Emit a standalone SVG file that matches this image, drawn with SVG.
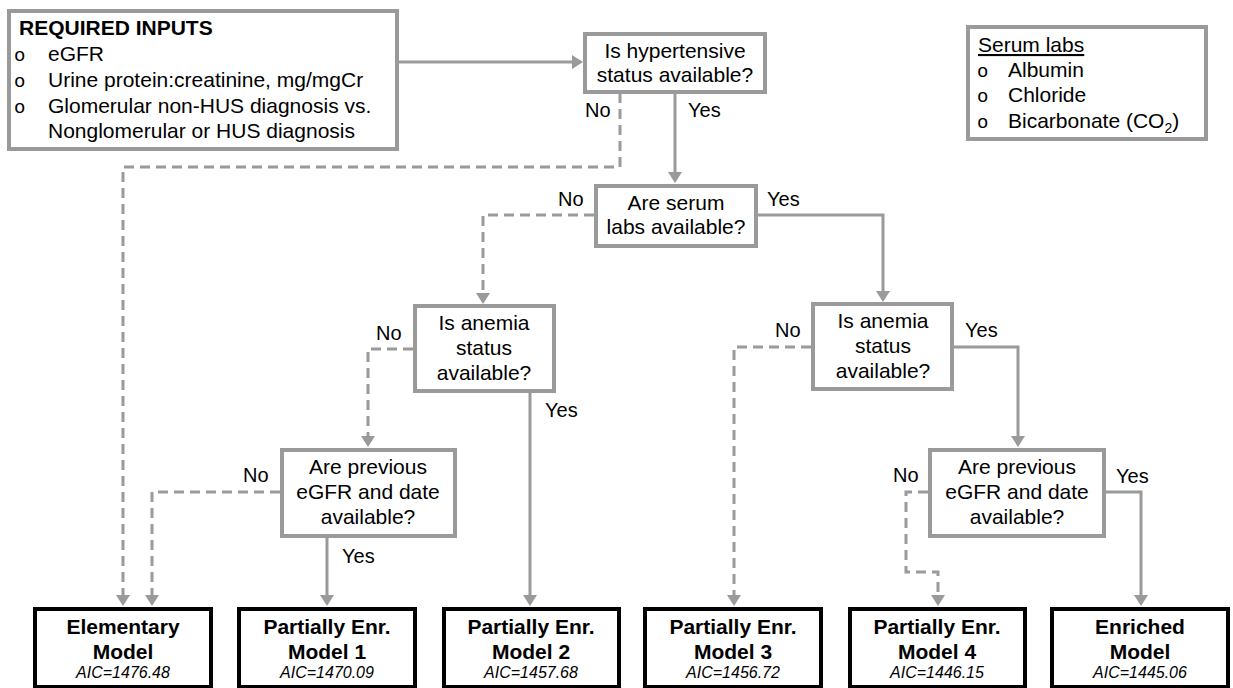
<svg xmlns="http://www.w3.org/2000/svg" width="1233" height="688" viewBox="0 0 1233 688">
<style>
text{font-family:"Liberation Sans",Arial,sans-serif;fill:#000}
.t{font-size:21px}
.c{font-size:21px;text-anchor:middle}
.b{font-size:21px;font-weight:bold;text-anchor:middle}
.aic{font-size:16px;font-style:italic;text-anchor:middle}
.lbl{font-size:20px}
.bul{font-family:"Liberation Mono",monospace;font-size:19px}
.gbox{fill:#fff;stroke:#9a9a9a;stroke-width:4}
.kbox{fill:#fff;stroke:#000;stroke-width:4}
.ln{fill:none;stroke:#9a9a9a;stroke-width:3}
.dash{stroke-dasharray:10,6}
</style>
<defs>
<marker id="ah" viewBox="0 0 11 14" refX="8.5" refY="7" markerWidth="11" markerHeight="14" markerUnits="userSpaceOnUse" orient="auto">
<path d="M0,0 L11,7 L0,14 Z" fill="#9a9a9a"/>
</marker>
</defs>
<g id="connectors">
<path class="ln" d="M398,62 H580.5" marker-end="url(#ah)"/>
<path class="ln dash" d="M620,93 V167 H123 V603.5" marker-end="url(#ah)"/>
<path class="ln" d="M675,93 V180.5" marker-end="url(#ah)"/>
<path class="ln dash" d="M594,215 H483 V301.5" marker-end="url(#ah)"/>
<path class="ln" d="M758,215 H883 V299.5" marker-end="url(#ah)"/>
<path class="ln dash" d="M413,349 H368 V444.5" marker-end="url(#ah)"/>
<path class="ln" d="M530,393 V603.5" marker-end="url(#ah)"/>
<path class="ln dash" d="M811,347 H734 V603.5" marker-end="url(#ah)"/>
<path class="ln" d="M954,347 H1018 V444.5" marker-end="url(#ah)"/>
<path class="ln dash" d="M280,492 H152 V603.5" marker-end="url(#ah)"/>
<path class="ln" d="M327,537 V603.5" marker-end="url(#ah)"/>
<path class="ln dash" d="M928,492 H906 V572 H938 V603.5" marker-end="url(#ah)"/>
<path class="ln" d="M1106,492 H1141 V603.5" marker-end="url(#ah)"/>
</g>
<g id="labels">
<text class="lbl" x="585" y="117">No</text>
<text class="lbl" x="688" y="117">Yes</text>
<text class="lbl" x="558" y="206">No</text>
<text class="lbl" x="767" y="206">Yes</text>
<text class="lbl" x="376" y="340">No</text>
<text class="lbl" x="545" y="417">Yes</text>
<text class="lbl" x="775" y="337">No</text>
<text class="lbl" x="965" y="337">Yes</text>
<text class="lbl" x="243" y="482">No</text>
<text class="lbl" x="342" y="563">Yes</text>
<text class="lbl" x="893" y="482">No</text>
<text class="lbl" x="1116" y="483">Yes</text>
</g>
<g id="required-inputs">
<rect class="gbox" x="9" y="11" width="388" height="138"/>
<text class="t" x="19" y="35" font-weight="bold">REQUIRED INPUTS</text>
<text class="bul" x="14" y="61">o</text>
<text class="t" x="48" y="61">eGFR</text>
<text class="bul" x="14" y="87">o</text>
<text class="t" x="48" y="87">Urine protein:creatinine, mg/mgCr</text>
<text class="bul" x="14" y="113">o</text>
<text class="t" x="48" y="113">Glomerular non-HUS diagnosis vs.</text>
<text class="t" x="48" y="138">Nonglomerular or HUS diagnosis</text>
</g>
<g id="serum-labs-legend">
<rect class="gbox" x="968" y="27" width="238" height="112"/>
<text class="t" x="978" y="52" text-decoration="underline">Serum labs</text>
<text class="bul" x="977" y="77">o</text>
<text class="t" x="1008" y="77">Albumin</text>
<text class="bul" x="977" y="102">o</text>
<text class="t" x="1008" y="102">Chloride</text>
<text class="bul" x="977" y="128">o</text>
<text class="t" x="1008" y="128">Bicarbonate (CO<tspan font-size="14" dy="5">2</tspan><tspan dy="-5">)</tspan></text>
</g>
<g id="q-hypertensive">
<rect class="gbox" x="585" y="34" width="180" height="58"/>
<text class="c" x="675" y="58">Is hypertensive</text>
<text class="c" x="675" y="82">status available?</text>
</g>
<g id="q-serum">
<rect class="gbox" x="596" y="186" width="160" height="60"/>
<text class="c" x="676" y="210">Are serum</text>
<text class="c" x="676" y="234">labs available?</text>
</g>
<g id="q-anemia-left">
<rect class="gbox" x="415" y="306" width="139" height="85"/>
<text class="c" x="484" y="330">Is anemia</text>
<text class="c" x="484" y="355">status</text>
<text class="c" x="484" y="380">available?</text>
</g>
<g id="q-anemia-right">
<rect class="gbox" x="813" y="304" width="139" height="85"/>
<text class="c" x="883" y="328">Is anemia</text>
<text class="c" x="883" y="353">status</text>
<text class="c" x="883" y="378">available?</text>
</g>
<g id="q-previous-left">
<rect class="gbox" x="282" y="450" width="173" height="86"/>
<text class="c" x="368" y="474">Are previous</text>
<text class="c" x="368" y="499">eGFR and date</text>
<text class="c" x="368" y="524">available?</text>
</g>
<g id="q-previous-right">
<rect class="gbox" x="930" y="450" width="174" height="86"/>
<text class="c" x="1017" y="474">Are previous</text>
<text class="c" x="1017" y="499">eGFR and date</text>
<text class="c" x="1017" y="524">available?</text>
</g>
<g id="m-elementary">
<rect class="kbox" x="35" y="609" width="176" height="78"/>
<text class="b" x="123" y="634">Elementary</text>
<text class="b" x="123" y="659">Model</text>
<text class="aic" x="123" y="678">AIC=1476.48</text>
</g>
<g id="m-partial-1">
<rect class="kbox" x="239" y="609" width="176" height="78"/>
<text class="b" x="327" y="634">Partially Enr.</text>
<text class="b" x="327" y="659">Model 1</text>
<text class="aic" x="327" y="678">AIC=1470.09</text>
</g>
<g id="m-partial-2">
<rect class="kbox" x="444" y="609" width="175" height="78"/>
<text class="b" x="531" y="634">Partially Enr.</text>
<text class="b" x="531" y="659">Model 2</text>
<text class="aic" x="531" y="678">AIC=1457.68</text>
</g>
<g id="m-partial-3">
<rect class="kbox" x="645" y="609" width="176" height="78"/>
<text class="b" x="733" y="634">Partially Enr.</text>
<text class="b" x="733" y="659">Model 3</text>
<text class="aic" x="733" y="678">AIC=1456.72</text>
</g>
<g id="m-partial-4">
<rect class="kbox" x="850" y="609" width="175" height="78"/>
<text class="b" x="937" y="634">Partially Enr.</text>
<text class="b" x="937" y="659">Model 4</text>
<text class="aic" x="937" y="678">AIC=1446.15</text>
</g>
<g id="m-enriched">
<rect class="kbox" x="1052" y="609" width="176" height="78"/>
<text class="b" x="1140" y="634">Enriched</text>
<text class="b" x="1140" y="659">Model</text>
<text class="aic" x="1140" y="678">AIC=1445.06</text>
</g>
</svg>
